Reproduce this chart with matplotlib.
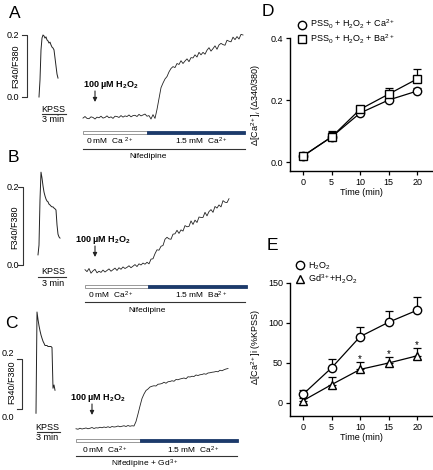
import numpy as np
import matplotlib.pyplot as plt
from matplotlib.lines import Line2D
from matplotlib.patches import Rectangle

plt.rcParams['font.family'] = ['Liberation Sans', 'DejaVu Sans']
plt.rcParams['mathtext.fontset'] = 'custom'
plt.rcParams['mathtext.rm'] = 'Liberation Sans'
plt.rcParams['mathtext.it'] = 'Liberation Sans:italic'
plt.rcParams['mathtext.bf'] = 'Liberation Sans:bold'

# ---------------- data ----------------
# KPSS responses (F340/F380, relative to scale bar zero), sampled every 0.125 min
kpss_a = [0.000, 0.055, 0.152, 0.190, 0.200, 0.197, 0.190, 0.194, 0.184, 0.181,
          0.174, 0.177, 0.168, 0.161, 0.158, 0.152, 0.126, 0.100, 0.074, 0.061]
kpss_b = [0.026, 0.051, 0.167, 0.238, 0.223, 0.203, 0.187, 0.177, 0.169, 0.164,
          0.162, 0.156, 0.154, 0.151, 0.149, 0.149, 0.146, 0.144, 0.141, 0.103,
          0.079, 0.072, 0.069]
kpss_c = [-0.017, 0.388, 0.358, 0.333, 0.313, 0.296, 0.283, 0.271, 0.263, 0.254,
          0.254, 0.254, 0.250, 0.250, 0.250, 0.250, 0.246, 0.083, 0.096, 0.075]

# H2O2 responses, sampled every 0.25 min
trace_a = [-0.068, -0.063, -0.069, -0.070, -0.064, -0.066, -0.071, -0.065, -0.067, -0.062,
           -0.068, -0.066, -0.061, -0.067, -0.064, -0.069, -0.062, -0.063, -0.066, -0.060,
           -0.065, -0.061, -0.063, -0.058, -0.064, -0.060, -0.059, -0.063, -0.056, -0.061,
           -0.058, -0.055, -0.062,
           -0.060, -0.071, -0.057, -0.069, -0.040, -0.005, 0.030, 0.045,
           0.058, 0.066, 0.081, 0.092,
           0.098, 0.095, 0.108, 0.105, 0.117, 0.108, 0.116, 0.123, 0.114, 0.127,
           0.126, 0.136, 0.129, 0.144, 0.136, 0.144, 0.138, 0.151, 0.159, 0.148,
           0.156, 0.165, 0.154, 0.168, 0.173, 0.169, 0.167, 0.183, 0.180, 0.178,
           0.193, 0.185, 0.195, 0.187, 0.202, 0.200]
trace_b = [-0.012, -0.017, -0.009, -0.021, -0.015, -0.011, -0.020, -0.016, -0.019,
           -0.013, -0.018, -0.014, -0.010, -0.016, -0.012, -0.008, -0.014,
           -0.007, -0.011, -0.005, -0.009, -0.006, -0.002, -0.007, -0.003,
           0.001, -0.004, 0.003, 0.000, 0.005, 0.002, 0.007, 0.003,
           0.015, 0.016, 0.029, 0.039, 0.038, 0.048, 0.050, 0.066,
           0.071, 0.067, 0.066, 0.079, 0.080, 0.089, 0.081, 0.090,
           0.087, 0.101, 0.098, 0.099, 0.113, 0.104, 0.115, 0.109,
           0.123, 0.122, 0.122, 0.135, 0.126, 0.137, 0.142, 0.135,
           0.150, 0.146, 0.154, 0.149, 0.165, 0.161, 0.160, 0.170]
trace_c = [-0.079, -0.081, -0.077, -0.080, -0.078, -0.076, -0.079, -0.077, -0.074,
           -0.078, -0.075, -0.076, -0.073, -0.075, -0.072, -0.074, -0.071,
           -0.074, -0.070, -0.072, -0.071, -0.068, -0.071, -0.069, -0.067,
           -0.070, -0.066, -0.069, -0.067,
           -0.068, -0.050, -0.020, 0.012, 0.042, 0.060, 0.074, 0.080,
           0.088, 0.091, 0.093, 0.092, 0.099, 0.100, 0.102, 0.107,
           0.103, 0.109, 0.110, 0.113, 0.111, 0.118, 0.117, 0.120,
           0.122, 0.124, 0.121, 0.129, 0.128, 0.131, 0.130, 0.136,
           0.134, 0.137, 0.138, 0.141, 0.139, 0.144, 0.145, 0.147,
           0.148, 0.150, 0.149, 0.155, 0.153, 0.157, 0.160, 0.162]

# Panel D
time_pts = [0, 5, 10, 15, 20]
d_ca = [0.019, 0.081, 0.158, 0.200, 0.229]
d_ca_err = [0.005, 0.015, 0.008, 0.010, 0.010]
d_ba = [0.020, 0.081, 0.170, 0.219, 0.268]
d_ba_err = [0.005, 0.020, 0.010, 0.020, 0.032]

# Panel E
e_h2o2 = [11, 44, 83, 101, 116]
e_h2o2_err = [5, 11, 12, 14, 16]
e_gd = [3, 23, 42, 50, 59]
e_gd_err = [3, 10, 9, 7, 10]
e_sig = [False, False, True, True, True]

# ---------------- figure ----------------
W, H = 433, 470
fig = plt.figure(figsize=(W / 100, H / 100), dpi=100)


def px_axes(x0, y0, x1, y1):
    return fig.add_axes([x0 / W, 1 - y1 / H, (x1 - x0) / W, (y1 - y0) / H])


PX_PER_MIN = 8.0


def trace_panel(top, bot, zero_px, ppu, kpss, kpss_px, trace, trace_px, bar_px):
    ax = px_axes(0, top, 260, bot)
    ax.set_xlim(0, 260 / PX_PER_MIN)
    ax.set_ylim((zero_px - bot) / ppu, (zero_px - top) / ppu)
    ax.axis('off')
    tk = kpss_px / PX_PER_MIN + 0.125 * np.arange(len(kpss))
    ax.plot(tk, kpss, color='#222222', lw=0.7)
    tt = trace_px / PX_PER_MIN + 0.25 * np.arange(len(trace))
    ax.plot(tt, trace, color='#222222', lw=0.6)
    # scale bar 0.0 - 0.2
    xb = bar_px / PX_PER_MIN
    ax.plot([xb - 5 / PX_PER_MIN, xb, xb, xb - 5 / PX_PER_MIN], [0.2, 0.2, 0.0, 0.0],
            color='#333333', lw=0.8)
    return ax


trace_panel(0, 150, 97, 310, kpss_a, 39, trace_a, 83, 27)
trace_panel(140, 300, 265, 390, kpss_b, 38, trace_b, 85, 23)
trace_panel(290, 470, 409, 250, kpss_c, 36, trace_c, 76, 22)

ov = px_axes(0, 0, W, H)
ov.set_xlim(0, W)
ov.set_ylim(H, 0)
ov.axis('off')

fs = 6.5
for lab, x, y in [('A', 15, 13), ('B', 13, 158), ('C', 11, 323), ('D', 268, 11), ('E', 272, 246)]:
    ov.text(x, y, lab, fontsize=12.5, ha='center', va='center')

h2o2_txt = r'100 µM H$_\mathbf{2}$O$_\mathbf{2}$'
panels = [
    dict(s02=(19, 35), s00=(19, 97), ylab=(16, 66), kx=53, ky=109, kl=(42, 66),
         h=(83, 85), ar=(95, 91, 102), bar=(83, 147, 245, 132),
         l1=(86, r'0 mM  Ca $^{2+}$'), l2=(175, r'1.5 mM  Ca$^{2+}$'), ly=141,
         line=(83, 245, 149), drug=(148, 156, 'Nifedipine')),
    dict(s02=(19, 187), s00=(19, 265), ylab=(15, 227), kx=53, ky=272, kl=(38, 66),
         h=(75, 240), ar=(95, 246, 257), bar=(85, 148, 247, 286),
         l1=(88, r'0 mM  Ca$^{2+}$'), l2=(175, r'1.5 mM  Ba$^{2+}$'), ly=295,
         line=(85, 245, 302), drug=(147, 310, 'Nifedipine')),
    dict(s02=(14, 353), s00=(14, 418), ylab=(12, 382), kx=47, ky=427, kl=(37, 60),
         h=(70, 398), ar=(92, 404, 415), bar=(76, 140, 238, 440),
         l1=(82, r'0 mM  Ca$^{2+}$'), l2=(167, r'1.5 mM  Ca$^{2+}$'), ly=450,
         line=(76, 237, 456), drug=(145, 464, r'Nifedipine + Gd$^{3+}$')),
]
for p in panels:
    ov.text(*p['s02'], '0.2', fontsize=fs, ha='right', va='center')
    ov.text(*p['s00'], '0.0', fontsize=fs, ha='right', va='center')
    ov.text(*p['ylab'], 'F340/F380', fontsize=fs, rotation=90, ha='center', va='center')
    ov.text(p['kx'], p['ky'], 'KPSS', fontsize=fs, ha='center', va='center')
    ov.text(p['kx'], p['ky'] + 11, '3 min', fontsize=fs, ha='center', va='center')
    ov.plot(p['kl'], [p['ky'] + 5] * 2, color='#333333', lw=0.8)
    ov.text(*p['h'], h2o2_txt, fontsize=fs, fontweight='bold', ha='left', va='center')
    ax_, ay0, ay1 = p['ar']
    ov.annotate('', xy=(ax_, ay1), xytext=(ax_, ay0),
                arrowprops=dict(arrowstyle='-|>', color='#222222', lw=0.8,
                                mutation_scale=6, shrinkA=0, shrinkB=0))
    b0, b1, b2, by = p['bar']
    ov.add_patch(Rectangle((b0, by - 1.5), b1 - b0, 3, fc='white', ec='#888888', lw=0.6))
    ov.add_patch(Rectangle((b1, by - 1.5), b2 - b1, 3, fc='#1c3a6b', ec='#1c3a6b', lw=0.6))
    ov.text(p['l1'][0], p['ly'], p['l1'][1], fontsize=6, ha='left', va='center')
    ov.text(p['l2'][0], p['ly'], p['l2'][1], fontsize=6, ha='left', va='center')
    l0, l1_, lyy = p['line']
    ov.plot([l0, l1_], [lyy, lyy], color='#333333', lw=0.8)
    ov.text(p['drug'][0], p['drug'][1], p['drug'][2], fontsize=6, ha='center', va='center')


def style_ax(ax):
    for s in ['top', 'right']:
        ax.spines[s].set_visible(False)
    for s in ['left', 'bottom']:
        ax.spines[s].set_linewidth(1.0)
    ax.tick_params(labelsize=fs, length=3, width=0.9, pad=2)
    ax.set_xticks(time_pts)
    ax.set_xlim(-2.3, 22.6)
    ax.set_xlabel('Time (min)', fontsize=fs, labelpad=1)


MS = 6
mk = dict(ms=MS, mfc='white', mec='black', mew=1.0, color='black', lw=0.9)

# Panel D
axd = px_axes(290, 38, 432, 171)
style_ax(axd)
axd.set_ylim(-0.029, 0.4)
axd.set_yticks([0.0, 0.2, 0.4])
axd.set_yticklabels(['0.0', '0.2', '0.4'])
axd.errorbar(time_pts, d_ca, yerr=[np.zeros(5), d_ca_err], fmt='none', ecolor='black',
             elinewidth=0.9, capsize=3, capthick=0.9)
axd.errorbar(time_pts, d_ba, yerr=[np.zeros(5), d_ba_err], fmt='none', ecolor='black',
             elinewidth=0.9, capsize=3, capthick=0.9)
axd.plot(time_pts, d_ca, marker='o', **mk)
axd.plot(time_pts, d_ba, marker='s', **mk)
axd.set_ylabel(r'Δ[Ca$^{2+}$]$_i$ (Δ340/380)', fontsize=fs)
axd.yaxis.set_label_coords(-0.19, 0.5)
hd = [Line2D([], [], marker='o', ls='none', ms=MS, mfc='white', mec='black', mew=1.0),
      Line2D([], [], marker='s', ls='none', ms=MS, mfc='white', mec='black', mew=1.0)]
fig.legend(hd, [r'PSS$_0$ + H$_2$O$_2$ + Ca$^{2+}$', r'PSS$_0$ + H$_2$O$_2$ + Ba$^{2+}$'],
           loc='upper left', bbox_to_anchor=(297 / W, 1 - 18 / H), frameon=False,
           fontsize=fs, handlelength=1.0, handletextpad=0.4, labelspacing=0.15,
           borderpad=0, borderaxespad=0)

# Panel E
axe = px_axes(290, 283, 432, 416)
style_ax(axe)
axe.set_ylim(-16.25, 150)
axe.set_yticks([0, 50, 100, 150])
axe.errorbar(time_pts, e_gd, yerr=[np.zeros(5), e_gd_err], fmt='none', ecolor='black',
             elinewidth=0.9, capsize=3, capthick=0.9)
axe.errorbar(time_pts, e_h2o2, yerr=[np.zeros(5), e_h2o2_err], fmt='none', ecolor='black',
             elinewidth=0.9, capsize=3, capthick=0.9)
axe.plot(time_pts, e_gd, marker='^', **mk)
axe.plot(time_pts, e_h2o2, marker='o', **mk)
for t, v, e, s in zip(time_pts, e_gd, e_gd_err, e_sig):
    if s:
        axe.text(t, v + e + 4, '*', fontsize=7, ha='center', va='center')
axe.set_ylabel(r'Δ[Ca$^{2+}$]i (%KPSS)', fontsize=fs)
axe.yaxis.set_label_coords(-0.19, 0.52)
he = [Line2D([], [], marker='o', ls='none', ms=MS, mfc='white', mec='black', mew=1.0),
      Line2D([], [], marker='^', ls='none', ms=MS, mfc='white', mec='black', mew=1.0)]
fig.legend(he, [r'H$_2$O$_2$', r'Gd$^{3+}$+H$_2$O$_2$'],
           loc='upper left', bbox_to_anchor=(295 / W, 1 - 260 / H), frameon=False,
           fontsize=fs, handlelength=1.0, handletextpad=0.4, labelspacing=0.15,
           borderpad=0, borderaxespad=0)

fig.savefig('out.png', dpi=100)
